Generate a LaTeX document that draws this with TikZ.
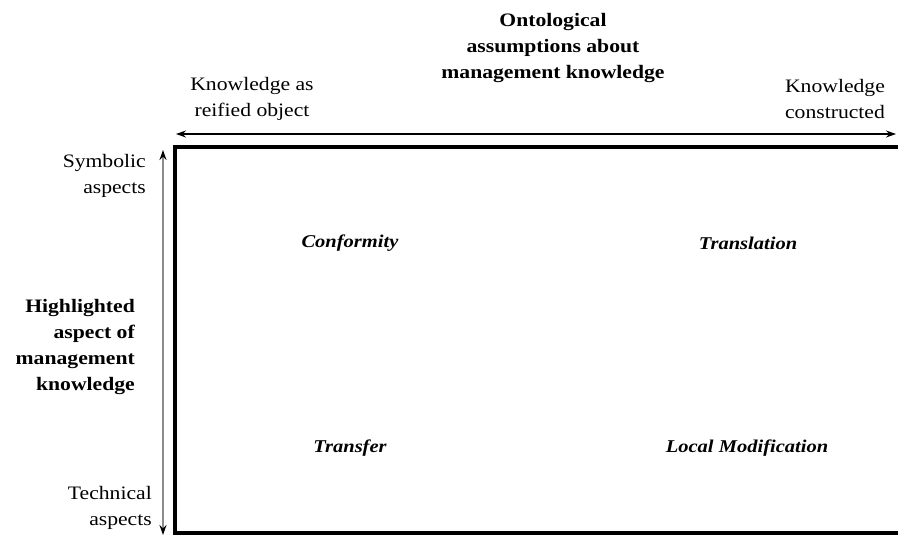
\documentclass[tikz,border=0pt]{standalone}
\usepackage{fontspec}
\setmainfont{Liberation Serif}[FakeStretch=1.14]
\usetikzlibrary{arrows.meta}
\begin{document}
\begin{tikzpicture}[x=1pt,y=-1pt,
  lbl/.style={font=\fontsize{19}{26}\selectfont, inner sep=0pt, text=black},
  head/.style={lbl, font=\fontsize{19}{26}\selectfont\bfseries},
  cell/.style={lbl, font=\fontsize{18}{24}\selectfont\bfseries\itshape},
  tip/.style={Stealth[length=10pt,width=7pt,black]},
  axis/.style={line width=1.3pt, {Stealth[length=10pt,width=7pt,black]}-{Stealth[length=10pt,width=7pt,black]}},
  frame/.style={line width=3.6pt, black}]
\useasboundingbox (0,0) rectangle (898,536);

% quadrant frame (open to the right)
\coordinate (tl) at (175,147);
\coordinate (bl) at (175,533);
\coordinate (tr) at (910,147);
\coordinate (br) at (910,533);
\draw[frame] (tr) -- (tl) -- (bl) -- (br);

% horizontal axis: ontological assumptions
\coordinate (hL) at (176,134);
\coordinate (hR) at (896,134);
\draw[axis] (hL) -- (hR);

% vertical axis: highlighted aspect
\coordinate (vT) at (163,150);
\coordinate (vB) at (163,535);
\draw[axis, draw=black!45, line width=1.6pt] (vT) -- (vB);

% axis titles and end labels
\node[head, align=center] (onto) at (553,48) {Ontological\\assumptions about\\management knowledge};
\node[lbl, align=center] (reified) at (252,99) {Knowledge as\\reified object};
\node[lbl, align=center] (constructed) at (835,99) {Knowledge\\constructed};

\node[lbl, align=right, anchor=east] (symbolic) at (146,176) {Symbolic\\aspects};
\node[head, align=right, anchor=east] (highlight) at (135,347) {Highlighted\\aspect of\\management\\knowledge};
\node[lbl, align=right, anchor=east] (technical) at (152,508) {Technical\\aspects};

% quadrant labels
\node[cell] (conformity) at (350,243) {Conformity};
\node[cell] (translation) at (748,243) {Translation};
\node[cell] (transfer) at (350,448) {Transfer};
\node[cell] (localmod) at (747,448) {Local Modification};
\end{tikzpicture}
\end{document}
